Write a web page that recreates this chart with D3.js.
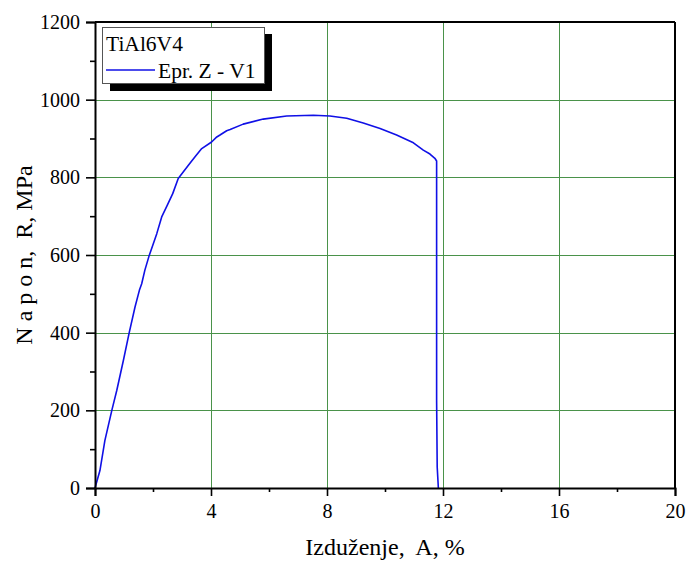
<!DOCTYPE html>
<html>
<head>
<meta charset="utf-8">
<script src="https://cdn.jsdelivr.net/npm/d3@7"></script>
<style>
  html, body { margin: 0; padding: 0; background: #fff; }
  svg text { font-family: "Liberation Serif", "Times New Roman", serif; white-space: pre; }
</style>
</head>
<body>
<svg id="chart" width="689" height="564"></svg>
<script>
// Stress–strain curve, specimen Z - V1 (TiAl6V4)
const elongation = [0, 0.17, 0.34, 0.58, 0.75, 0.98, 1.18, 1.38, 1.53, 1.61, 1.72, 1.87, 2.13, 2.30, 2.49, 2.68, 2.87, 3.22, 3.45, 3.68, 4.02, 4.20, 4.31, 4.54, 4.66, 5.11, 5.80, 6.61, 7.53, 8.10, 8.68, 9.25, 9.83, 10.40, 10.98, 11.32, 11.55, 11.72, 11.78, 11.78, 11.78, 11.80, 11.84];
const stress     = [0, 45, 122, 200, 251, 329, 400, 466, 509, 526, 561, 599, 655, 698, 728, 758, 797, 831, 853, 874, 891, 904, 909, 920, 923, 937, 950, 958, 960, 958, 952, 940, 926, 909, 889, 870, 860, 849, 842, 569, 226, 54, 0];

const xTicks = [0, 4, 8, 12, 16, 20];
const yTicks = [0, 200, 400, 600, 800, 1000, 1200];
const xMinorTicks = [2, 6, 10, 14, 18];
const yMinorTicks = [100, 300, 500, 700, 900, 1100];

const seriesName = "Epr. Z - V1";
const legendTitle = "TiAl6V4";
const xTitle = "Izduženje,  A, %";
const yTitle = "N a p o n,  R, MPa";

const margin = { left: 95, right: 14, top: 22, bottom: 76 };
const W = 689, H = 564;

const svg = d3.select("#chart");

const x = d3.scaleLinear().domain([0, 20]).range([margin.left, W - margin.right]);
const y = d3.scaleLinear().domain([0, 1200]).range([H - margin.bottom, margin.top]);

// grid
const grid = svg.append("g");
grid.selectAll("line.gx").data(xTicks.slice(1, -1)).join("line")
  .attr("x1", d => Math.round(x(d)) + 0.5).attr("x2", d => Math.round(x(d)) + 0.5)
  .attr("y1", y(1200)).attr("y2", y(0))
  .attr("stroke", "#4a924a").attr("stroke-width", 1);
grid.selectAll("line.gy").data(yTicks.slice(1, -1)).join("line")
  .attr("y1", d => Math.round(y(d)) + 0.5).attr("y2", d => Math.round(y(d)) + 0.5)
  .attr("x1", x(0)).attr("x2", x(20))
  .attr("stroke", "#4a924a").attr("stroke-width", 1);

// curve
const pts = elongation.map((e, i) => [e, stress[i]]);
svg.append("path")
  .datum(pts)
  .attr("fill", "none")
  .attr("stroke", "#1010e6")
  .attr("stroke-width", 1.6)
  .attr("stroke-linejoin", "round")
  .attr("d", d3.line().x(d => x(d[0])).y(d => y(d[1])));

// frame: top and right
svg.append("line").attr("x1", x(0)).attr("x2", x(20)).attr("y1", y(1200)).attr("y2", y(1200))
  .attr("stroke", "#000").attr("stroke-width", 2);
svg.append("line").attr("x1", x(20)).attr("x2", x(20)).attr("y1", y(1200)).attr("y2", y(0))
  .attr("stroke", "#000").attr("stroke-width", 2);

// axes
const xAxis = svg.append("g").attr("transform", `translate(0,${y(0)})`)
  .call(d3.axisBottom(x).tickValues(xTicks).tickSize(8).tickPadding(8).tickFormat(d3.format("d")));
const xMinor = svg.append("g").attr("transform", `translate(0,${y(0)})`)
  .call(d3.axisBottom(x).tickValues(xMinorTicks).tickSize(4).tickFormat(""));
const yAxis = svg.append("g").attr("transform", `translate(${x(0)},0)`)
  .call(d3.axisLeft(y).tickValues(yTicks).tickSize(9).tickPadding(6).tickFormat(d3.format("d")));
const yMinor = svg.append("g").attr("transform", `translate(${x(0)},0)`)
  .call(d3.axisLeft(y).tickValues(yMinorTicks).tickSize(5).tickFormat(""));

[xAxis, xMinor, yAxis, yMinor].forEach(g => {
  g.select(".domain").attr("stroke", "#000").attr("stroke-width", 2);
  g.selectAll(".tick line").attr("stroke", "#000").attr("stroke-width", 1.6);
  g.selectAll(".tick text").attr("fill", "#000")
    .style("font-family", "'Liberation Serif', serif").style("font-size", "20px");
});
xMinor.select(".domain").remove();
yMinor.select(".domain").remove();

// axis titles
svg.append("text")
  .attr("x", (x(0) + x(20)) / 2).attr("y", 555)
  .attr("text-anchor", "middle").style("font-size", "24px").attr("fill", "#000")
  .text(xTitle);
svg.append("text")
  .attr("transform", `translate(32,${(y(0) + y(1200)) / 2}) rotate(-90)`)
  .attr("text-anchor", "middle").style("font-size", "24px").attr("fill", "#000")
  .text(yTitle);

// legend with drop shadow
const lg = svg.append("g");
lg.append("rect").attr("x", 110).attr("y", 34).attr("width", 162).attr("height", 57).attr("fill", "#000");
lg.append("rect").attr("x", 102.5).attr("y", 27.5).attr("width", 162).attr("height", 56)
  .attr("fill", "#fff").attr("stroke", "#555").attr("stroke-width", 1);
lg.append("text").attr("x", 106).attr("y", 51).style("font-size", "21.5px").attr("fill", "#000").text(legendTitle);
lg.append("line").attr("x1", 106).attr("x2", 155).attr("y1", 70).attr("y2", 70)
  .attr("stroke", "#1010e6").attr("stroke-width", 1.6);
lg.append("text").attr("x", 158).attr("y", 78).style("font-size", "21.5px").attr("fill", "#000").text(seriesName);
</script>
</body>
</html>
